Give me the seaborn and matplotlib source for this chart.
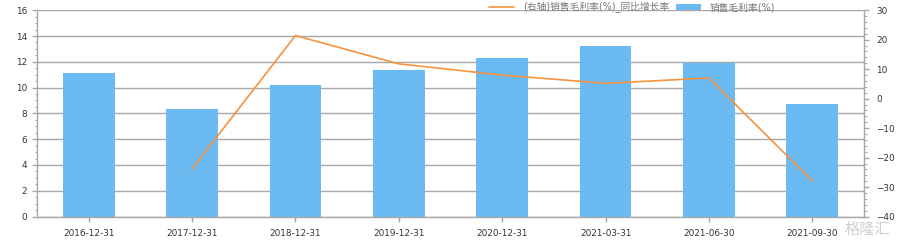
import numpy as np
import pandas as pd
import matplotlib
matplotlib.use("Agg")
import matplotlib.pyplot as plt
from matplotlib.ticker import MultipleLocator
from matplotlib.lines import Line2D
from matplotlib.patches import Patch
import seaborn as sns

categories = ["2016-12-31", "2017-12-31", "2018-12-31", "2019-12-31",
              "2020-12-31", "2021-03-31", "2021-06-30", "2021-09-30"]
margin = [11.1, 8.35, 10.2, 11.35, 12.3, 13.22, 11.93, 8.73]
margin_yoy = [np.nan, -23.8, 21.4, 11.8, 8.0, 5.2, 7.0, -27.9]
bar_label = "销售毛利率(%)"
line_label = "(右轴)销售毛利率(%)_同比增长率"

sns.set_theme(style="white")
plt.rcParams['font.family'] = ['DejaVu Sans', 'Noto Sans CJK SC']

BAR = "#6BBAF2"
LINE = "#F5923E"
GRID = "#A8A8A8"
TXT = "#333333"

fig = plt.figure(figsize=(9.01, 2.47), dpi=100)
ax = fig.add_axes([37/901, 1-216.6/247, (864-37)/901, (216.6-10.2)/247])

df = pd.DataFrame({"cat": categories, "val": margin})
sns.barplot(data=df, x="cat", y="val", color=BAR, saturation=1, width=0.5, ax=ax,
            zorder=2, linewidth=0, edgecolor=BAR)
ax.set_xlim(-0.5, len(categories) - 0.5)
ax.set_ylim(0, 16)
ax.yaxis.set_major_locator(MultipleLocator(2))
ax.yaxis.set_minor_locator(MultipleLocator(0.5))
ax.grid(axis="y", which="major", color=GRID, linewidth=1, zorder=0)
ax.set_axisbelow(True)
ax.set_xlabel("")
ax.set_ylabel("")

ax2 = ax.twinx()
ldf = pd.DataFrame({"pos": np.arange(len(categories)), "val": margin_yoy}).dropna()
sns.lineplot(data=ldf, x="pos", y="val", color=LINE, linewidth=1.2, ax=ax2, zorder=3)
ax2.set_ylim(-40, 30)
ax2.yaxis.set_major_locator(MultipleLocator(10))
ax2.yaxis.set_minor_locator(MultipleLocator(2))
ax2.set_xlim(-0.5, len(categories) - 0.5)
ax2.set_ylabel("")
ax2.set_xlabel("")

for a in (ax, ax2):
    for s in a.spines.values():
        s.set_visible(False)
ax.spines["left"].set_visible(True)
ax.spines["bottom"].set_visible(True)
ax2.spines["right"].set_visible(True)
for s in (ax.spines["left"], ax.spines["bottom"], ax2.spines["right"]):
    s.set_color(GRID)
    s.set_linewidth(1)

ax.tick_params(axis="y", which="major", left=True, length=3.6, width=1, color=GRID,
               labelsize=6.4, labelcolor=TXT, pad=3.6)
ax.tick_params(axis="y", which="minor", left=True, length=1.8, width=0.8, color=GRID)
ax.tick_params(axis="x", which="major", bottom=True, length=3.6, width=1, color=GRID,
               labelsize=6.4, labelcolor=TXT, pad=5)
ax2.tick_params(axis="y", which="major", right=True, length=3.6, width=1, color=GRID,
                labelsize=6.4, labelcolor=TXT, pad=5)
ax2.tick_params(axis="y", which="minor", right=True, length=1.8, width=0.8, color=GRID)

handles = [Line2D([0], [0], color=LINE, linewidth=1.2),
           Patch(facecolor=BAR, edgecolor="none")]
leg = fig.legend(handles, [line_label, bar_label], loc="center",
                 bbox_to_anchor=(632/901, 1-7.5/247), ncol=2, frameon=False,
                 fontsize=7, handlelength=2.6, handletextpad=0.9, columnspacing=0.7,
                 handleheight=0.6, labelcolor="#777777", borderpad=0)

fig.text(0.988, 0.035, "格隆汇", ha="right", va="bottom", fontsize=11,
         color="#D0D0D0", family=["Noto Sans CJK SC"])

fig.savefig("out.png", dpi=100)
